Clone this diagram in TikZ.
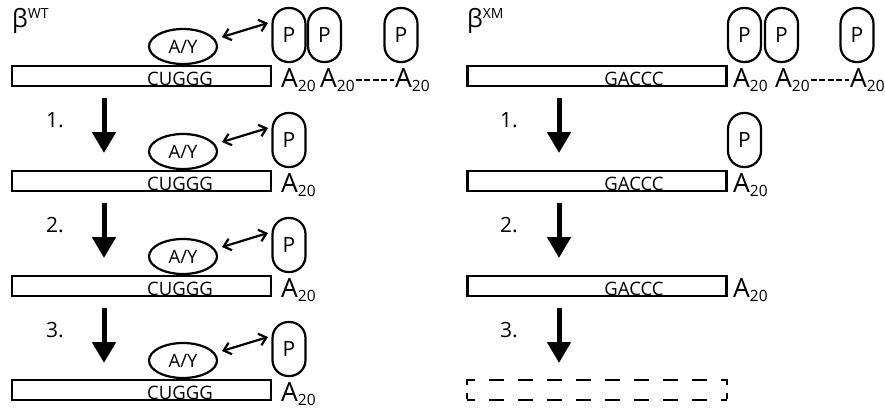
\documentclass[tikz,border=0pt]{standalone}
\usepackage{fontspec}
\setmainfont{Open Sans}
\usetikzlibrary{arrows.meta,shapes.geometric,calc}
\newcommand\Atw{A{\fontsize{15.5}{15}\selectfont\raisebox{-4pt}{20}}}
\begin{document}
\begin{tikzpicture}[x=1pt,y=-1pt,
  rna/.style={draw, line width=2.4pt, minimum width=259pt, minimum height=20pt, inner sep=0pt},
  seq/.style={anchor=base, inner sep=0pt, font=\fontsize{18.5}{18}\selectfont},
  ay/.style={draw, ellipse, line width=2.2pt, minimum width=68pt, minimum height=35pt, inner sep=0pt, font=\fontsize{18.5}{18}\selectfont},
  pab/.style={draw, rounded corners=16pt, line width=2.2pt, minimum width=33pt, minimum height=54pt, inner sep=0pt, font=\fontsize{21}{21}\selectfont},
  pa/.style={anchor=base west, inner sep=0pt, font=\fontsize{26.5}{26}\selectfont},
  num/.style={anchor=base, inner sep=0pt, font=\fontsize{21}{21}\selectfont},
  dbl/.style={line width=2.2pt, {Straight Barb[length=7pt,width=12pt]}-{Straight Barb[length=7pt,width=12pt]}},
  stepar/.style={line width=5pt, -{Triangle[length=21pt,width=23pt]}},
  hyph/.style={line width=2pt, dash pattern=on 6pt off 2.5pt},
  title/.style={anchor=base west, inner sep=0pt, font=\fontsize{25}{25}\selectfont}]
\path[use as bounding box, fill=white] (0,0) rectangle (885,410);

% titles
\node[title] (tWT) at (12,27) {β\raisebox{9pt}{\fontsize{14}{14}\selectfont WT}};
\node[title] (tXM) at (467,27) {β\raisebox{9pt}{\fontsize{14}{14}\selectfont XM}};

% ---------- left column, row 1 ----------
\node[rna] (L1) at (141.5,76) {};
\node[seq] (L1s) at (180,85) {CUGGG};
\node[ay] (Y1) at (183,46.5) {A/Y};
\node[pab] (P1a) at (289,35) {P};
\node[pab] (P1b) at (324.5,35) {P};
\node[pab] (P1c) at (401,35) {P};
\node[pa] (A1a) at (281,87) {\Atw};
\node[pa] (A1b) at (320,87) {\Atw};
\node[pa] (A1c) at (395,87) {\Atw};
\draw[hyph] ($(A1b.base east)+(1,-7.5)$) -- ($(A1c.base west)+(-1,-7.5)$);
\draw[dbl] ($(Y1.center)+(39,-9.5)$) -- ($(P1a.center)+(-21,-12)$);

% ---------- left column, rows 2-4 ----------
\foreach \r/\t in {2/171,3/276,4/380}{
  \node[rna] (L\r) at (141.5,\t+10) {};
  \node[seq] (L\r s) at (180,\t+19) {CUGGG};
  \node[ay] (Y\r) at (183,\t-19.5) {A/Y};
  \node[pab] (P\r) at (289,\t-31) {P};
  \node[pa] (A\r) at (281,\t+21) {\Atw};
  \draw[dbl] ($(Y\r.center)+(39,-9.5)$) -- ($(P\r.center)+(-21,-12)$);
}

% ---------- step arrows and numbers ----------
\foreach \r/\s in {1/98,2/203,3/308}{
  \coordinate (ls\r) at (104,\s);
  \coordinate (le\r) at (104,\s+55);
  \draw[stepar] (ls\r) -- (le\r);
  \node[num] (ln\r) at (55,\s+29) {\r.};
  \coordinate (rs\r) at (559,\s);
  \coordinate (re\r) at (559,\s+55);
  \draw[stepar] (rs\r) -- (re\r);
  \node[num] (rn\r) at (509,\s+29) {\r.};
}

% ---------- right column ----------
\node[rna] (R1) at (597,76) {};
\node[seq] (R1s) at (634,85) {GACCC};
\node[pab] (Q1a) at (744.5,35) {P};
\node[pab] (Q1b) at (781.5,35) {P};
\node[pab] (Q1c) at (857,35) {P};
\node[pa] (B1a) at (733,87) {\Atw};
\node[pa] (B1b) at (775,87) {\Atw};
\node[pa] (B1c) at (850,87) {\Atw};
\draw[hyph] ($(B1b.base east)+(1,-7.5)$) -- ($(B1c.base west)+(-1,-7.5)$);

\node[rna] (R2) at (597,181) {};
\node[seq] (R2s) at (634,190) {GACCC};
\node[pab] (Q2) at (744.5,140) {P};
\node[pa] (B2) at (733,192) {\Atw};

\node[rna] (R3) at (597,286) {};
\node[seq] (R3s) at (634,295) {GACCC};
\node[pa] (B3) at (733,297) {\Atw};

% dashed (degraded) RNA
\begin{scope}[line width=2.4pt]
  \draw[dash pattern=on 15pt off 14pt, dash phase=7pt] (467,380) -- (727,380);
  \draw[dash pattern=on 15pt off 14pt, dash phase=7pt] (467,400) -- (727,400);
  \draw[dash pattern=on 6pt off 8pt] (467,379) -- (467,401);
  \draw[dash pattern=on 6pt off 8pt] (727,379) -- (727,401);
\end{scope}
\end{tikzpicture}
\end{document}
